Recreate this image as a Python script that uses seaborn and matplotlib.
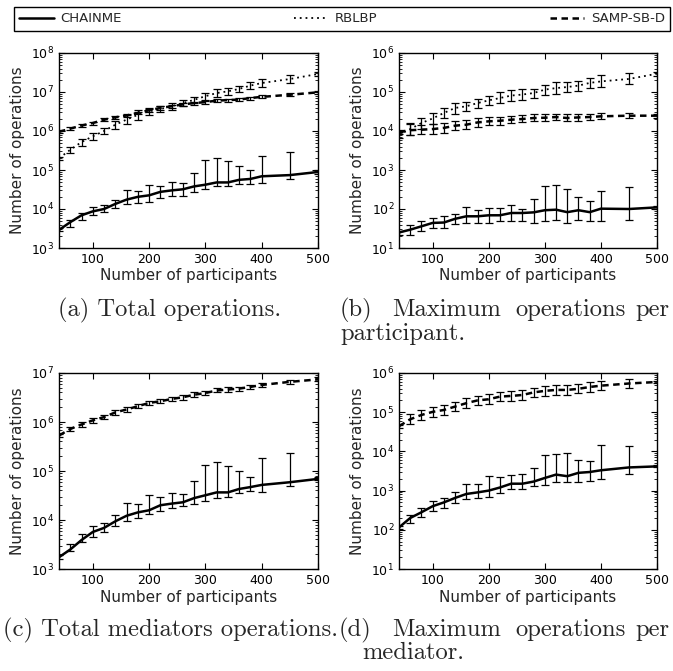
"""CHAINME / RBLBP / SAMP-SB-D operation counts (4 panels)"""
import matplotlib
matplotlib.use("Agg")
import matplotlib.pyplot as plt
import seaborn as sns
from matplotlib.lines import Line2D

sns.set_style("ticks")
plt.rcParams["font.family"] = ["DejaVu Sans"]
plt.rcParams.update({
    "xtick.direction": "in", "ytick.direction": "in",
    "xtick.top": True, "ytick.right": True,
    "xtick.major.size": 4, "ytick.major.size": 4,
    "ytick.minor.size": 2, "ytick.minor.visible": True,
    "xtick.labelsize": 9, "ytick.labelsize": 9,
    "axes.labelsize": 11, "axes.linewidth": 1.0,
    "axes.edgecolor": "black",
})

# 참여자 수
n_participants = [40, 60, 80, 100, 120, 140, 160, 180, 200, 220, 240, 260, 280,
                  300, 320, 340, 360, 380, 400, 450, 500]

# (a) Total operations
a_chain = [2.9e3, 4.6e3, 6.9e3, 8.7e3, 1.0e4, 1.35e4, 1.74e4, 2.05e4, 2.24e4, 2.75e4, 3.0e4,
           3.2e4, 3.8e4, 4.2e4, 4.8e4, 4.8e4, 5.6e4, 5.9e4, 6.9e4, 7.4e4, 8.9e4]
a_chain_lo = [2.7e3, 3.45e3, 5.3e3, 6.9e3, 8.4e3, 1.06e4, 1.37e4, 1.42e4, 1.5e4, 1.9e4, 2.1e4,
              2.18e4, 2.74e4, 3.3e4, 3.8e4, 3.8e4, 4.4e4, 4.5e4, 4.6e4, 5.9e4, 8.0e4]
a_chain_hi = [3.2e3, 5.3e3, 7.9e3, 1.1e4, 1.24e4, 1.74e4, 3.0e4, 2.84e4, 4.2e4, 4.0e4, 4.8e4,
              4.6e4, 8.3e4, 1.82e5, 2.0e5, 1.74e5, 1.3e5, 9.8e4, 2.24e5, 2.9e5, 9.8e4]
a_rblbp = [2.0e5, 3.3e5, 5.2e5, 7.3e5, 1.0e6, 1.45e6, 1.96e6, 2.6e6, 3.2e6, 3.65e6, 4.3e6,
           5.2e6, 6.3e6, 7.8e6, 9.4e6, 1.04e7, 1.2e7, 1.46e7, 1.7e7, 2.15e7, 2.9e7]
a_rblbp_lo = [1.8e5, 2.8e5, 4.2e5, 5.9e5, 8.3e5, 1.15e6, 1.5e6, 1.9e6, 2.6e6, 3.0e6, 3.5e6,
              4.3e6, 5.2e6, 6.4e6, 7.6e6, 8.6e6, 9.8e6, 1.2e7, 1.35e7, 1.75e7, 2.6e7]
a_rblbp_hi = [2.2e5, 3.9e5, 6.4e5, 9.0e5, 1.2e6, 1.8e6, 2.6e6, 3.5e6, 3.9e6, 4.4e6, 5.3e6,
              6.2e6, 7.6e6, 9.5e6, 1.16e7, 1.26e7, 1.45e7, 1.78e7, 2.1e7, 2.65e7, 3.2e7]
a_samp = [9.5e5, 1.15e6, 1.38e6, 1.6e6, 1.95e6, 2.24e6, 2.5e6, 2.9e6, 3.4e6, 3.9e6, 4.3e6,
          4.8e6, 5.2e6, 5.5e6, 6.0e6, 6.2e6, 6.4e6, 7.0e6, 7.5e6, 8.5e6, 9.8e6]
a_samp_lo = [8.8e5, 1.05e6, 1.26e6, 1.46e6, 1.78e6, 2.05e6, 2.25e6, 2.65e6, 3.1e6, 3.55e6, 3.9e6,
             4.35e6, 4.75e6, 5.0e6, 5.45e6, 5.65e6, 5.85e6, 6.4e6, 6.85e6, 7.8e6, 9.0e6]
a_samp_hi = [1.03e6, 1.26e6, 1.5e6, 1.75e6, 2.13e6, 2.45e6, 2.78e6, 3.15e6, 3.7e6, 4.25e6, 4.75e6,
             5.3e6, 5.7e6, 6.05e6, 6.6e6, 6.8e6, 7.0e6, 7.65e6, 8.2e6, 9.25e6, 1.07e7]

# (b) Maximum operations per participant
b_chain = [25, 29.5, 36, 44, 45, 56, 65, 65, 69, 69, 79, 79, 82, 93, 96, 83, 93, 83, 102, 100, 110]
b_chain_lo = [22, 22, 27, 33, 33, 41, 44, 44, 44, 48, 48, 48, 44, 48, 53, 44, 53, 48, 48, 53, 100]
b_chain_hi = [28, 40, 48, 59, 65, 76, 112, 93, 107, 107, 129, 102, 182, 380, 417, 324, 209, 158,
              283, 363, 120]
b_rblbp = [8000, 11200, 16000, 21000, 29000, 39000, 43000, 52000, 61000, 70000, 81000, 86000,
           94000, 115000, 126000, 134000, 146000, 171000, 187000, 216000, 294000]
b_rblbp_lo = [6800, 7800, 11500, 15000, 21000, 28000, 32000, 39000, 46000, 52000, 58000, 64000,
              70000, 86000, 90000, 100000, 106000, 130000, 135000, 160000, 260000]
b_rblbp_hi = [9400, 16000, 22000, 29000, 40000, 52000, 56000, 68000, 80000, 100000, 112000, 116000,
              122000, 150000, 180000, 176000, 196000, 225000, 265000, 300000, 330000]
b_samp = [9500, 10500, 10800, 11200, 12000, 13700, 14500, 16600, 17700, 18300, 19500, 20300,
          21500, 21900, 22800, 21500, 22300, 22800, 23800, 24700, 24700]
b_samp_lo = [8500, 8000, 8200, 8400, 9000, 10500, 11000, 13000, 14000, 14500, 16000, 17000,
             18000, 18500, 19000, 18000, 18500, 19500, 20500, 21000, 22000]
b_samp_hi = [10500, 15500, 14500, 15500, 16500, 18500, 19500, 21000, 22500, 23000, 24500, 25000,
             26500, 27000, 28000, 27000, 27500, 27500, 28500, 29500, 27500]

# (c) Total mediators operations
c_chain = [1740, 2500, 3900, 5700, 6900, 9400, 12200, 14300, 15800, 20000, 21600, 23000, 28000,
           32000, 36600, 36600, 43000, 47000, 52000, 59000, 69000]
c_chain_lo = [1600, 2300, 3600, 4600, 5700, 7500, 9400, 11000, 13000, 15000, 17500, 19000, 21500,
              25000, 28000, 29500, 35000, 39000, 37000, 49000, 64000]
c_chain_hi = [1900, 3200, 5200, 7700, 8700, 12400, 22000, 21000, 32000, 30000, 35000, 34500, 62000,
              135000, 152000, 128000, 98000, 77000, 182000, 233000, 75000]
c_samp = [5.3e5, 7.2e5, 8.9e5, 1.08e6, 1.26e6, 1.57e6, 1.8e6, 2.1e6, 2.45e6, 2.65e6, 2.95e6,
          3.2e6, 3.6e6, 3.9e6, 4.4e6, 4.6e6, 4.8e6, 5.2e6, 5.7e6, 6.6e6, 7.4e6]
c_samp_lo = [4.9e5, 6.5e5, 8.0e5, 9.7e5, 1.14e6, 1.42e6, 1.63e6, 1.9e6, 2.22e6, 2.4e6, 2.65e6,
             2.85e6, 3.25e6, 3.55e6, 4.0e6, 4.1e6, 4.35e6, 4.7e6, 5.15e6, 6.0e6, 6.8e6]
c_samp_hi = [5.8e5, 8.0e5, 9.9e5, 1.2e6, 1.4e6, 1.74e6, 2.0e6, 2.32e6, 2.7e6, 2.95e6, 3.3e6,
             3.6e6, 4.0e6, 4.3e6, 4.85e6, 5.15e6, 5.3e6, 5.75e6, 6.3e6, 7.2e6, 8.1e6]

# (d) Maximum operations per mediator
d_chain = [115, 200, 280, 400, 500, 650, 820, 900, 1000, 1200, 1500, 1500, 1700, 2100, 2560, 2330,
           2840, 2980, 3300, 3900, 4150]
d_chain_lo = [105, 145, 210, 300, 350, 470, 620, 650, 690, 870, 1100, 1100, 1300, 1400, 1650, 1650,
              1700, 1800, 2000, 2600, 3900]
d_chain_hi = [125, 245, 360, 550, 650, 910, 1500, 1480, 2300, 2200, 2450, 2650, 3800, 8300, 8800,
              9100, 6200, 5600, 14500, 13800, 4400]
d_samp = [44000, 66000, 85000, 102000, 114000, 139000, 170000, 200000, 214000, 250000, 260000,
          275000, 320000, 350000, 370000, 370000, 395000, 440000, 475000, 540000, 590000]
d_samp_lo = [40000, 50000, 64000, 76000, 85000, 105000, 128000, 150000, 160000, 190000, 195000,
             205000, 245000, 265000, 280000, 280000, 300000, 330000, 360000, 410000, 540000]
d_samp_hi = [48000, 88000, 112000, 135000, 150000, 185000, 225000, 265000, 285000, 330000, 345000,
             365000, 425000, 465000, 490000, 490000, 520000, 580000, 630000, 720000, 640000]

methods = ["CHAINME", "RBLBP", "SAMP-SB-D"]
line_style = {
    "CHAINME": dict(linestyle="-", lw=1.8),
    "RBLBP": dict(linestyle=(0, (1, 2.2)), lw=1.3),
    "SAMP-SB-D": dict(linestyle=(0, (2.6, 1.8)), lw=1.8),
}

panels = [
    # (axes rect in px: left, top, right, bottom), ylim, series
    ((59, 53, 318, 248), (1e3, 1e8), {"CHAINME": (a_chain, a_chain_lo, a_chain_hi),
                                      "RBLBP": (a_rblbp, a_rblbp_lo, a_rblbp_hi),
                                      "SAMP-SB-D": (a_samp, a_samp_lo, a_samp_hi)}),
    ((399, 53, 657, 248), (1e1, 1e6), {"CHAINME": (b_chain, b_chain_lo, b_chain_hi),
                                       "RBLBP": (b_rblbp, b_rblbp_lo, b_rblbp_hi),
                                       "SAMP-SB-D": (b_samp, b_samp_lo, b_samp_hi)}),
    ((59, 373, 318, 569), (1e3, 1e7), {"CHAINME": (c_chain, c_chain_lo, c_chain_hi),
                                       "SAMP-SB-D": (c_samp, c_samp_lo, c_samp_hi)}),
    ((399, 373, 657, 569), (1e1, 1e6), {"CHAINME": (d_chain, d_chain_lo, d_chain_hi),
                                        "SAMP-SB-D": (d_samp, d_samp_lo, d_samp_hi)}),
]

W, H = 673, 671
fig = plt.figure(figsize=(W / 100, H / 100), dpi=100)

for (l, t, r, b), ylim, series in panels:
    ax = fig.add_axes([l / W, 1 - b / H, (r - l) / W, (b - t) / H])
    for name, (mean, lo, hi) in series.items():
        yerr = [[m - v for m, v in zip(mean, lo)], [v - m for m, v in zip(mean, hi)]]
        ax.errorbar(n_participants, mean, yerr=yerr, fmt="none", ecolor="black",
                    elinewidth=0.9, capsize=3.2, capthick=0.9, zorder=2)
        sns.lineplot(x=n_participants, y=mean, ax=ax, color="black", zorder=3,
                     **line_style[name])
    ax.set_yscale("log")
    ax.set_xlim(40, 500)
    ax.set_ylim(*ylim)
    ax.set_xticks([100, 200, 300, 400, 500])
    ax.set_xlabel("Number of participants")
    ax.set_ylabel("Number of operations")
    ax.xaxis.set_label_coords(0.5, -0.105)
    ax.yaxis.set_label_coords(-0.13, 0.5)
    ax.tick_params(which="both", top=True, right=True, colors="black")
    ax.tick_params(axis="y", which="minor", left=True, right=True)

# 범례
handles = [Line2D([], [], color="black", **line_style[m]) for m in methods]
fig.legend(handles, methods, loc="center", ncol=3, mode="expand",
           bbox_to_anchor=(14 / W, 1 - 32 / H, 656 / W, 26 / H), borderaxespad=0,
           fancybox=False, edgecolor="black", framealpha=1, fontsize=9.5,
           handlelength=2.6, handletextpad=0.5)

# 서브 캡션 (LaTeX 스타일, 양쪽 정렬이라 단어별 배치)
cap = dict(family="cmr10", fontsize=17.7, va="baseline", ha="left")
fig.text(58 / W, 1 - 316 / H, "(a) Total operations.", **cap)
for x, word in [(340, "(b)"), (392, "Maximum"), (515, "operations"), (635, "per")]:
    fig.text(x / W, 1 - 316 / H, word, **cap)
fig.text(340 / W, 1 - 340 / H, "participant.", **cap)
fig.text(3 / W, 1 - 636 / H, "(c) Total mediators operations.", **cap)
for x, word in [(339, "(d)"), (392, "Maximum"), (515, "operations"), (635, "per")]:
    fig.text(x / W, 1 - 636 / H, word, **cap)
fig.text(362 / W, 1 - 659 / H, "mediator.", **cap)

plt.savefig("out.png", dpi=100)
plt.close()
